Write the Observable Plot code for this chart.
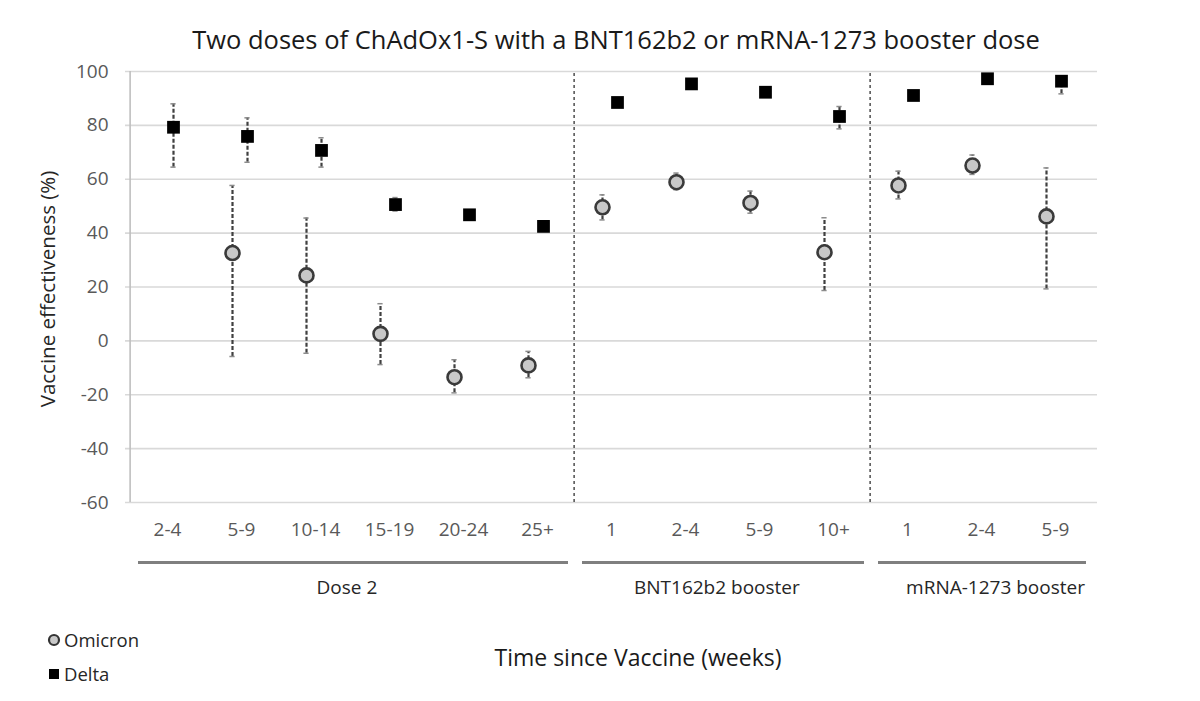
<!DOCTYPE html>
<html>
<head>
<meta charset="utf-8">
<script src="https://cdn.jsdelivr.net/npm/d3@7"></script>
<script src="https://cdn.jsdelivr.net/npm/@observablehq/plot@0.6"></script>
<style>
  body { margin: 0; width: 1200px; height: 701px; position: relative; background: #fff; font-family: "Open Sans", sans-serif; overflow: hidden; }
  #title { position: absolute; z-index: 2; top: 22px; left: 32px; width: 1168px; text-align: center; font-size: 25.5px; line-height: 34px; color: #1a1a1a; }
  #chart { position: absolute; z-index: 1; top: 40px; left: 0; }
  .leg { position: absolute; left: 47px; font-size: 18.5px; color: #262626; display: flex; align-items: center; }
  #xtitle { position: absolute; top: 641px; left: 0; width: 1276px; text-align: center; font-size: 23px; color: #1a1a1a; }
</style>
</head>
<body>
<div id="chart"></div>
<div id="title">Two doses of ChAdOx1-S with a BNT162b2 or mRNA-1273 booster dose</div>
<div class="leg" style="top:627px"><svg width="14" height="14" style="margin-right:3px"><circle cx="7" cy="7" r="5" fill="#c8c8c8" stroke="#333" stroke-width="2.2"/></svg>Omicron</div>
<div class="leg" style="top:661px"><svg width="14" height="14" style="margin-right:3px"><rect x="2" y="2" width="10" height="10" fill="#000"/></svg>Delta</div>
<div id="xtitle">Time since Vaccine (weeks)</div>
<script>
const categories = ["2-4","5-9","10-14","15-19","20-24","25+","1","2-4","5-9","10+","1","2-4","5-9"];
const groups = ["Dose 2","Dose 2","Dose 2","Dose 2","Dose 2","Dose 2",
  "BNT162b2 booster","BNT162b2 booster","BNT162b2 booster","BNT162b2 booster",
  "mRNA-1273 booster","mRNA-1273 booster","mRNA-1273 booster"];
const groupNames = ["Dose 2","BNT162b2 booster","mRNA-1273 booster"];

const omicron   = [null, 32.6, 24.3,  2.6, -13.5, -9.1, 49.6, 58.9, 51.2, 32.9, 57.7, 65.1, 46.2];
const omicronLo = [null, -5.8, -4.6, -8.8, -19.3, -13.7, 44.9, 56.1, 47.4, 18.7, 52.7, 61.8, 19.3];
const omicronHi = [null, 57.7, 45.6, 13.8,  -7.0, -3.9, 54.2, 62.3, 55.6, 45.7, 63.0, 69.0, 64.2];

const delta   = [79.3, 75.9, 70.7, 50.6, 46.8, 42.5, 88.5, 95.4, 92.3, 83.3, 91.1, 97.3, 96.4];
const deltaLo = [64.5, 66.3, 64.5, 48.2, 45.6, 41.6, 87.4, 94.6, 91.4, 78.7, 90.2, 96.6, 91.7];
const deltaHi = [88.0, 82.8, 75.4, 53.2, 48.0, 43.4, 89.6, 96.2, 93.2, 87.0, 92.0, 98.0, 98.2];

const yTicks = [-60, -40, -20, 0, 20, 40, 60, 80, 100];

// build table
const keys = categories.map((c, i) => i + "|" + c);
const omRows = keys.map((k, i) => ({key: k, v: omicron[i], lo: omicronLo[i], hi: omicronHi[i]})).filter(d => d.v != null);
const deRows = keys.map((k, i) => ({key: k, v: delta[i], lo: deltaLo[i], hi: deltaHi[i]}));
const groupRows = groupNames.map(g => {
  const idx = groups.map((x, i) => x === g ? i : -1).filter(i => i >= 0);
  const n = idx.length;
  const mid = idx[Math.floor((n - 1) / 2)];
  return {g, first: keys[idx[0]], last: keys[idx[n - 1]], mid: keys[mid], even: n % 2 === 0};
});
const sepKeys = groupRows.slice(1).map(d => d.first);

const W = 1200, H = 570;
const mL = 125, mR = 103, mT = 31, mB = 108;
const bw = (W - mL - mR) / categories.length;
const dxOm = -9, dxDe = 6;
const capHalf = 3;
const capInset = bw / 2 - capHalf;

const plot = Plot.plot({
  width: W, height: H,
  marginLeft: mL, marginRight: mR, marginTop: mT, marginBottom: mB,
  style: {fontFamily: "'Open Sans', sans-serif", background: "transparent", overflow: "visible"},
  x: {type: "band", domain: keys, padding: 0, axis: null},
  y: {domain: [-60, 100], axis: null},
  marks: [
    Plot.ruleY(yTicks, {stroke: "#d9d9d9", strokeWidth: 1.6}),
    Plot.ruleX([keys[0]], {y1: -60, y2: 100, dx: -bw / 2, stroke: "#bfbfbf", strokeWidth: 1.6}),
    Plot.ruleX(sepKeys, {y1: -60, y2: 100, dx: -bw / 2, stroke: "#404040", strokeWidth: 1.4, strokeDasharray: "3,3"}),
    Plot.axisY({ticks: yTicks, tickSize: 0, tickPadding: 17, fontSize: 19, fill: "#595959", label: null, tickFormat: d => String(d)}),
    Plot.axisX({tickSize: 0, tickPadding: 20, fontSize: 19, fill: "#595959", label: null, tickFormat: k => k.split("|")[1]}),
    Plot.text(["Vaccine effectiveness (%)"], {text: d => d, frameAnchor: "left", textAnchor: "middle", rotate: -90, dx: -77, dy: 2, fontSize: 20.5, fill: "#262626"}),
    // group brackets
    Plot.ruleY(groupRows, {x1: "first", x2: "last", y: () => -60, dy: 60, insetLeft: 8, insetRight: 6, stroke: "#7f7f7f", strokeWidth: 3}),
    Plot.text(groupRows.filter(d => d.even), {x: "mid", y: () => -60, dy: 85, dx: bw / 2 - 6, text: "g", fontSize: 19, fill: "#262626"}),
    Plot.text(groupRows.filter(d => !d.even), {x: "mid", y: () => -60, dy: 85, dx: 14, text: "g", fontSize: 19, fill: "#262626"}),
    // error bars
    Plot.ruleX(deRows, {x: "key", y1: "lo", y2: "hi", dx: dxDe, stroke: "#404040", strokeWidth: 2.2, strokeDasharray: "4,2"}),
    Plot.tickY(deRows, {x: "key", y: "lo", dx: dxDe, insetLeft: capInset, insetRight: capInset, stroke: "#8c8c8c", strokeWidth: 1.5}),
    Plot.tickY(deRows, {x: "key", y: "hi", dx: dxDe, insetLeft: capInset, insetRight: capInset, stroke: "#8c8c8c", strokeWidth: 1.5}),
    Plot.ruleX(omRows, {x: "key", y1: "lo", y2: "hi", dx: dxOm, stroke: "#404040", strokeWidth: 2.2, strokeDasharray: "4,2"}),
    Plot.tickY(omRows, {x: "key", y: "lo", dx: dxOm, insetLeft: capInset, insetRight: capInset, stroke: "#8c8c8c", strokeWidth: 1.5}),
    Plot.tickY(omRows, {x: "key", y: "hi", dx: dxOm, insetLeft: capInset, insetRight: capInset, stroke: "#8c8c8c", strokeWidth: 1.5}),
    // points
    Plot.dot(deRows, {x: "key", y: "v", dx: dxDe, symbol: "square", r: 7.2, fill: "#000", stroke: "none"}),
    Plot.dot(omRows, {x: "key", y: "v", dx: dxOm, symbol: "circle", r: 7, fill: "#c8c8c8", stroke: "#3a3a3a", strokeWidth: 2.6})
  ]
});

document.getElementById("chart").appendChild(plot);
</script>
</body>
</html>
